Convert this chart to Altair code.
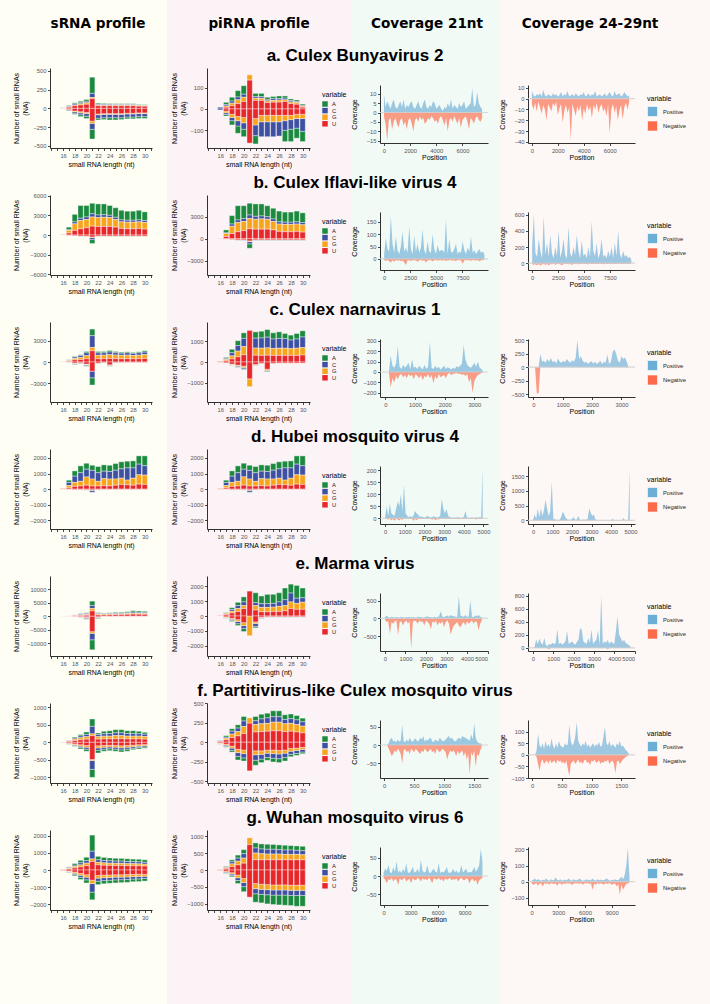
import altair as alt
import pandas as pd

# ---------------------------------------------------------------- constants
LENGTHS = list(range(16, 31))
BASES = ["A", "C", "G", "U"]
BASE_COLORS = ["#1b8a3e", "#3e50a2", "#f8a51d", "#e8272b"]
STACK_RANK = {"U": 0, "G": 1, "C": 2, "A": 3}
STRANDS = ["Positive", "Negative"]
STRAND_COLORS = ["#6baed6", "#fb6a4a"]

HEADERS = ["sRNA profile", "piRNA profile", "Coverage 21nt", "Coverage 24-29nt"]
COLUMN_BG = ["#fefef5", "#fcf3f6", "#f2faf6", "#fdf7f5"]
ROW_TITLES = [
    "a. Culex Bunyavirus 2",
    "b. Culex Iflavi-like virus 4",
    "c. Culex narnavirus 1",
    "d. Hubei mosquito virus 4",
    "e. Marma virus",
    "f. Partitivirus-like Culex mosquito virus",
    "g. Wuhan mosquito virus 6",
]

# ------------------------------------------- read counts per length (16..30)
# keys A,C,G,U = sense reads, nA..nU = antisense reads
srna_a = dict(
    A=[2, 10, 15, 20, 25, 217, 15, 12, 10, 10, 10, 10, 10, 8, 8],
    C=[2, 10, 15, 15, 20, 55, 10, 10, 10, 8, 8, 8, 8, 6, 6],
    G=[1, 5, 10, 15, 20, 15, 10, 10, 10, 10, 10, 10, 10, 10, 8],
    U=[4, 15, 35, 45, 55, 130, 35, 35, 35, 35, 35, 35, 35, 30, 28],
    nA=[-1, -5, -15, -25, -30, -130, -25, -25, -30, -30, -25, -25, -25, -25, -25],
    nC=[-2, -10, -20, -25, -35, -80, -45, -45, -45, -45, -45, -40, -40, -40, -40],
    nG=[-1, -5, -10, -15, -15, -30, -10, -10, -10, -10, -10, -10, -10, -10, -10],
    nU=[-2, -15, -35, -45, -55, -170, -75, -70, -70, -70, -70, -65, -65, -60, -60],
)
pirna_a = dict(
    A=[0, 10, 18, 30, 40, 0, 15, 15, 10, 10, 12, 10, 8, 7, 6],
    C=[8, 7, 10, 13, 14, 0, 8, 8, 7, 8, 7, 8, 6, 5, 4],
    G=[0, 6, 12, 18, 20, 25, 10, 10, 8, 8, 10, 8, 8, 8, 5],
    U=[0, 8, 15, 25, 35, 135, 40, 40, 30, 32, 32, 35, 25, 22, 8],
    nA=[0, -7, -20, -34, -35, 0, -39, 0, 0, 0, 0, -53, -58, -47, -48],
    nC=[-5, -8, -15, -25, -30, 0, -50, -70, -70, -70, -67, -45, -45, -45, -60],
    nG=[0, -8, -15, -20, -25, 0, -30, -30, -30, -30, -30, -25, -20, -20, -20],
    nU=[0, -10, -25, -35, -40, -160, -45, -30, -30, -30, -30, -30, -30, -25, -25],
)
srna_b = dict(
    A=[5, 400, 1150, 1950, 1750, 1610, 1690, 1640, 1500, 1460, 1470, 1380, 1380, 1470, 1330],
    C=[5, 100, 300, 350, 400, 480, 400, 400, 350, 350, 300, 300, 300, 300, 300],
    G=[60, 400, 1000, 1250, 1250, 1400, 1350, 1400, 1350, 1150, 1000, 1000, 1000, 1000, 1000],
    U=[30, 300, 700, 950, 1100, 1350, 1300, 1300, 1300, 1200, 1000, 950, 950, 1000, 900],
    nA=[0, -20, -30, -60, -80, -600, -80, -80, -80, -80, -80, -80, -80, -80, -80],
    nC=[0, -10, -10, -30, -40, -300, -40, -40, -40, -40, -40, -40, -40, -40, -40],
    nG=[0, -20, -20, -30, -30, -100, -30, -30, -30, -30, -30, -30, -30, -30, -30],
    nU=[0, -50, -100, -150, -150, -300, -150, -150, -150, -150, -150, -150, -150, -150, -150],
)
pirna_b = srna_b
srna_c = dict(
    A=[0, 50, 100, 100, 200, 940, 200, 200, 220, 180, 150, 150, 130, 150, 200],
    C=[0, 80, 200, 280, 400, 1680, 350, 330, 370, 320, 300, 330, 300, 330, 350],
    G=[40, 100, 200, 300, 450, 470, 500, 500, 550, 530, 500, 500, 480, 500, 550],
    U=[10, 100, 300, 350, 450, 1600, 450, 470, 500, 470, 450, 470, 450, 470, 500],
    nA=[0, -5, -75, -60, -100, -1030, -40, -10, -50, -10, -10, -10, -10, -10, -10],
    nC=[0, -10, -100, -80, -150, -940, -60, -30, -100, -30, -20, -20, -20, -20, -20],
    nG=[0, -5, -50, -40, -60, 0, -30, -20, -60, -20, -20, -20, -20, -20, -20],
    nU=[0, -30, -150, -100, -300, -1310, -150, -80, -400, -80, -60, -60, -60, -60, -60],
)
pirna_c = dict(
    A=[0, 55, 170, 240, 270, 0, 310, 330, 370, 300, 320, 250, 240, 270, 300],
    C=[0, 50, 150, 270, 400, 0, 480, 500, 520, 460, 480, 470, 420, 450, 520],
    G=[20, 60, 150, 280, 400, 0, 350, 350, 360, 340, 350, 350, 330, 350, 360],
    U=[30, 60, 150, 250, 350, 1540, 330, 320, 330, 320, 320, 320, 320, 320, 340],
    nA=[0, -5, -15, -30, -40, 0, -10, -5, -20, -5, -5, -5, -5, -5, -5],
    nC=[0, -5, -25, -40, -70, 0, -20, -15, -50, -15, -10, -10, -10, -10, -10],
    nG=[0, -10, -20, -40, -60, -380, -30, -20, -60, -20, -15, -15, -15, -15, -15],
    nU=[-10, -40, -100, -150, -200, -820, -120, -60, -350, -60, -50, -50, -50, -50, -50],
)
srna_d = dict(
    A=[0, 145, 340, 440, 385, 330, 400, 405, 400, 430, 450, 430, 450, 530, 630],
    C=[0, 200, 400, 550, 490, 550, 550, 480, 480, 560, 600, 780, 660, 680, 600],
    G=[40, 150, 250, 300, 530, 450, 300, 450, 450, 400, 400, 300, 450, 600, 600],
    U=[20, 80, 180, 200, 255, 200, 200, 220, 200, 250, 300, 280, 250, 320, 300],
    nA=[0, -5, -10, -10, -10, -20, -10, -10, -10, -10, -10, -10, -10, -10, -10],
    nC=[0, -5, -10, -10, -15, -120, -15, -10, -10, -10, -10, -10, -10, -10, -10],
    nG=[0, -5, -10, -10, -10, -20, -10, -10, -10, -10, -10, -10, -10, -10, -10],
    nU=[0, -10, -30, -30, -30, -50, -30, -20, -20, -20, -20, -20, -20, -20, -20],
)
pirna_d = srna_d
srna_e = dict(
    A=[5, 25, 100, 250, 300, 1600, 300, 250, 300, 350, 350, 400, 500, 500, 450],
    C=[5, 25, 100, 230, 340, 1100, 240, 220, 240, 260, 260, 300, 420, 400, 380],
    G=[10, 50, 100, 200, 300, 900, 300, 250, 250, 250, 250, 300, 350, 300, 300],
    U=[30, 100, 200, 300, 400, 2000, 500, 500, 550, 600, 600, 700, 800, 750, 700],
    nA=[0, -10, -70, -120, -300, -3700, -300, -20, -20, -20, -20, -20, -20, -20, -20],
    nC=[0, -10, -50, -120, -300, -2400, -200, -20, -20, -20, -20, -20, -20, -20, -20],
    nG=[0, 0, -30, -50, -100, -600, -60, -10, -10, -10, -10, -10, -10, -10, -10],
    nU=[0, -20, -100, -200, -400, -5700, -300, -50, -50, -50, -50, -50, -50, -50, -50],
)
pirna_e = dict(
    A=[0, 40, 120, 225, 340, 0, 670, 520, 630, 610, 620, 790, 600, 865, 660],
    C=[0, 40, 120, 200, 250, 0, 200, 250, 250, 250, 300, 400, 600, 350, 300],
    G=[10, 60, 120, 200, 200, 0, 300, 300, 300, 300, 350, 350, 450, 400, 480],
    U=[20, 100, 200, 300, 500, 1680, 400, 280, 280, 300, 300, 350, 500, 450, 450],
    nA=[0, -30, -70, -125, -200, 0, -100, -20, -10, -10, -10, -10, -10, -10, -10],
    nC=[0, -30, -80, -150, -200, 0, -200, -40, -20, -20, -20, -20, -20, -20, -20],
    nG=[0, -30, -70, -120, -200, -1330, -100, -30, -10, -10, -10, -10, -10, -10, -10],
    nU=[0, -60, -150, -250, -450, 0, -400, -80, -50, -50, -50, -50, -50, -50, -50],
)
srna_f = dict(
    A=[1, 10, 30, 40, 70, 210, 45, 70, 80, 90, 90, 80, 80, 70, 55],
    C=[2, 10, 30, 50, 65, 215, 60, 70, 75, 80, 80, 75, 75, 70, 65],
    G=[2, 15, 40, 60, 70, 50, 70, 80, 80, 90, 90, 80, 80, 80, 75],
    U=[5, 25, 50, 70, 90, 190, 90, 95, 95, 100, 100, 95, 95, 95, 90],
    nA=[-1, -10, -20, -40, -60, -230, -80, -60, -55, -60, -60, -60, -40, -40, -35],
    nC=[-2, -10, -25, -40, -55, -250, -65, -55, -50, -55, -60, -55, -45, -40, -35],
    nG=[-2, -15, -25, -40, -50, -30, -60, -50, -50, -50, -55, -50, -45, -40, -35],
    nU=[-5, -25, -45, -70, -90, -490, -100, -90, -85, -90, -100, -90, -80, -70, -65],
)
pirna_f = dict(
    A=[5, 20, 32, 42, 58, 0, 55, 60, 60, 75, 75, 60, 60, 55, 47],
    C=[5, 14, 35, 45, 70, 0, 48, 62, 70, 70, 70, 55, 60, 60, 55],
    G=[5, 20, 45, 55, 90, 67, 95, 100, 100, 110, 110, 100, 100, 95, 85],
    U=[10, 30, 60, 80, 110, 243, 130, 135, 140, 145, 145, 135, 140, 130, 120],
    nA=[-5, -10, -23, -45, -40, 0, -64, -45, -36, -47, -50, -45, -30, -25, -22],
    nC=[-5, -15, -28, -50, -55, 0, -70, -60, -55, -60, -60, -55, -40, -38, -33],
    nG=[-5, -13, -25, -42, -45, 0, -50, -45, -40, -45, -45, -40, -35, -30, -27],
    nU=[-10, -25, -50, -90, -100, -365, -110, -110, -100, -100, -105, -100, -80, -75, -65],
)
srna_g = dict(
    A=[5, 40, 100, 150, 200, 950, 200, 180, 170, 170, 160, 160, 150, 150, 150],
    C=[5, 40, 80, 120, 150, 450, 150, 140, 140, 130, 130, 130, 120, 120, 110],
    G=[10, 40, 80, 120, 150, 150, 150, 140, 130, 130, 130, 120, 120, 120, 110],
    U=[20, 60, 120, 180, 250, 500, 300, 280, 270, 260, 260, 250, 250, 240, 230],
    nA=[-5, -30, -80, -130, -180, -450, -200, -190, -180, -180, -170, -170, -160, -160, -150],
    nC=[-5, -30, -70, -120, -160, -500, -180, -170, -160, -160, -150, -150, -140, -140, -130],
    nG=[-10, -30, -70, -110, -140, -200, -160, -150, -150, -140, -140, -140, -130, -130, -120],
    nU=[-20, -60, -120, -200, -280, -600, -320, -300, -290, -280, -280, -270, -260, -250, -250],
)
pirna_g = dict(
    A=[5, 20, 60, 90, 120, 0, 150, 150, 150, 140, 140, 140, 130, 130, 130],
    C=[5, 20, 60, 90, 130, 0, 150, 140, 140, 140, 130, 130, 130, 120, 120],
    G=[5, 30, 80, 110, 150, 200, 200, 180, 170, 170, 170, 160, 160, 160, 150],
    U=[10, 40, 100, 150, 200, 750, 300, 300, 300, 300, 300, 300, 300, 300, 300],
    nA=[-5, -20, -40, -90, -150, 0, -250, -250, -270, -280, -290, -300, -300, -320, -320],
    nC=[-5, -20, -40, -80, -120, 0, -150, -150, -150, -150, -150, -150, -150, -150, -150],
    nG=[-5, -20, -40, -80, -120, 0, -150, -150, -150, -150, -150, -150, -150, -150, -150],
    nU=[-10, -40, -80, -150, -250, -800, -400, -420, -430, -440, -440, -440, -450, -450, -450],
)

# ------------------------------------ coverage along the genome (sampled)
cov21_a_pos = [10, 3, 6, 4, 2, 5, 7, 3, 2, 4, 6, 3, 7, 2, 4, 3, 5, 6, 3, 2, 4, 6, 3, 2, 5, 7, 3, 2, 4, 3,
               6, 5, 2, 3, 4, 2, 1, 3, 2, 5, 3, 7, 2, 4, 3, 2, 5, 3, 4, 6, 2, 3, 4, 5, 13, 3, 4, 11, 5, 3, 2]
cov21_a_neg = [-2, -6, -15, -4, -3, -9, -5, -3, -6, -8, -4, -3, -7, -5, -9, -4, -3, -6, -10, -4,
               -3, -5, -2, -4, -3, -6, -5, -3, -4, -2, -3, -5, -4, -6, -3, -2, -4, -7, -3, -10,
               -4, -3, -5, -2, -4, -6, -3, -8, -4, -3, -2, -5, -9, -3, -4, -6, -3, -2, -4, -5, -3]
cov24_a_pos = [7, 3, 2, 4, 3, 5, 2, 8, 3, 2, 4, 3, 2, 5, 3, 4, 2, 3, 6, 2, 4, 3, 7, 2, 3, 4, 2, 5, 3, 2,
               4, 3, 6, 2, 3, 5, 2, 4, 3, 7, 2, 3, 4, 2, 3, 5, 2, 4, 6, 3, 2, 7, 3, 4, 5, 2, 3, 6, 4, 2, 3]
cov24_a_neg = [-5, -10, -4, -12, -3, -8, -14, -6, -10, -20, -5, -8, -12, -4, -7, -3, -15, -9, -5, -22,
               -11, -6, -13, -8, -38, -5, -10, -16, -7, -12, -6, -20, -9, -14, -5, -11, -7, -18, -6, -10,
               -4, -13, -8, -5, -12, -9, -16, -6, -32, -10, -5, -13, -7, -20, -11, -6, -19, -8, -4, -10, -3]

cov21_b_pos = [20, 85, 40, 30, 175, 60, 25, 90, 35, 20, 50, 110, 30, 45, 25, 130, 40, 20, 95, 30,
               60, 25, 45, 120, 35, 20, 70, 30, 25, 100, 40, 20, 55, 30, 35, 35, 25, 160, 20, 80,
               30, 25, 40, 60, 20, 30, 25, 70, 35, 20, 45, 30, 90, 25, 35, 20, 30, 40, 25, 30, 20]
cov21_b_neg = [-5, -8, -4, -10, -15, -6, -12, -4, -8, -5, -10, -7, -14, -25, -6, -5, -9, -4, -7, -5,
               -12, -6, -4, -8, -5, -15, -7, -4, -6, -10, -5, -4, -8, -6, -5, -7, -4, -9, -5, -6,
               -4, -8, -5, -10, -4, -6, -5, -20, -7, -4, -6, -5, -8, -4, -5, -7, -4, -10, -5, -4, -3]
cov24_b_pos = [200, 600, 120, 80, 300, 150, 60, 580, 100, 250, 80, 350, 120, 60, 200, 90, 400, 70, 150, 300,
               100, 60, 450, 120, 80, 200, 100, 350, 150, 60, 280, 90, 120, 60, 200, 80, 520, 150, 90, 250,
               60, 120, 300, 80, 100, 60, 150, 80, 200, 60, 250, 90, 400, 120, 60, 150, 80, 100, 60, 80, 40]
cov24_b_neg = [-10, -20, -15, -25, -10, -30, -15, -10, -20, -12, -25, -10, -15, -8, -20, -12, -10, -15, -25, -10,
               -12, -8, -15, -10, -20, -12, -8, -10, -15, -12, -10, -8, -12, -10, -15, -8, -10, -12, -8, -10,
               -12, -8, -10, -15, -8, -10, -12, -8, -10, -6, -12, -8, -10, -6, -8, -12, -6, -8, -10, -6, -5]

cov21_c_pos = [0, 0, 0, 160, 60, 40, 80, 250, 50, 30, 70, 40, 60, 90, 30, 120, 40, 50, 30, 60,
               40, 25, 70, 30, 50, 290, 40, 30, 60, 35, 50, 25, 40, 60, 30, 45, 35, 25, 40, 30,
               55, 45, 60, 80, 260, 120, 70, 50, 40, 60, 90, 50, 100, 40, 30, 0]
cov21_c_neg = [0, 0, 0, -150, -60, -100, -40, -70, -30, -20, -50, -30, -60, -20, -40, -30, -70, -20, -40, -60,
               -30, -80, -40, -50, -20, -60, -30, -110, -40, -70, -20, -50, -40, -30, -60, -20, -10, -30, -20, -15,
               -10, -20, -15, -30, -20, -40, -20, -100, -60, -200, -90, -50, -30, -20, -10, 0]
cov24_c_pos = [0, 0, 0, 0, 250, 100, 120, 80, 150, 100, 170, 90, 120, 70, 160, 100, 80, 120, 90, 150,
               110, 80, 130, 100, 170, 500, 150, 200, 120, 80, 100, 60, 90, 110, 70, 100, 60, 80, 120, 60,
               100, 80, 230, 60, 100, 280, 330, 250, 120, 80, 200, 150, 180, 100, 0, 0]
cov24_c_neg = [0, 0, -480, -480, 0, 0]

cov21_d_pos = [5, 50, 10, 60, 20, 15, 10, 40, 70, 50, 100, 30, 140, 20, 10, 5, 8, 5, 10, 30,
               20, 15, 5, 8, 5, 3, 5, 10, 5, 3, 5, 8, 5, 3, 5, 10, 80, 40, 20, 40,
               10, 5, 3, 2, 3, 2, 5, 3, 2, 2, 5, 30, 3, 2, 2, 3, 2, 2, 3, 2, 5, 3, 210]
cov21_d_neg = [-2, -3, -5, -2, -8, -3, -10, -2, -5, -8, -3, -6, -2, -3, -2, -2, -3, -2, -10, -3,
               -8, -2, -3, -2, -2, -2, -3, -2, -2, -3, -5, -2, -8, -3, -5, -2, -3, -2, -2, -3,
               -2, -2, -2, -3, -2, -2, -2, -3, -2, -2, -2, -2, -3, -2, -2, -2, -3, -2, -5, -2, -2, -3, -2]
cov24_d_pos = [10, 200, 50, 400, 100, 400, 150, 350, 700, 400, 150, 300, 1300, 50, 30, 20, 10, 20, 100, 300,
               200, 80, 30, 20, 10, 50, 100, 20, 30, 150, 20, 10, 30, 20, 30, 40, 400, 250, 150, 200,
               30, 10, 5, 5, 10, 5, 5, 5, 5, 5, 5, 50, 5, 5, 5, 5, 5, 10, 80, 5, 5, 10, 1750]
cov24_d_neg = [-5, -8, -5, -10, -5, -8, -5, -10, -15, -8, -5, -5, -20, -5, -3, -3, -2, -3, -5, -8,
               -5, -3, -2, -2, -2, -3, -2, -2, -3, -5, -2, -2, -3, -2, -2, -3, -10, -8, -5, -3,
               -2, -2, -2, -2, -2, -2, -2, -2, -2, -2, -2, -3, -2, -2, -2, -2, -2, -2, -5, -2, -2, -2, -10]

cov21_e_pos = [30, 80, 40, 20, 50, 30, 20, 40, 30, 20, 50, 30, 20, 40, 30, 50, 20, 40, 30, 20,
               50, 30, 40, 20, 30, 50, 60, 30, 40, 20, 50, 30, 40, 60, 200, 50, 40, 60, 80, 50,
               100, 70, 60, 50, 40, 630, 80, 60, 50, 100, 40, 60, 500, 50, 40, 80, 60, 100, 50, 30]
cov21_e_neg = [-30, -100, -80, -430, -100, -150, -80, -60, -470, -100, -80, -200, -100, -60, -150, -80, -850, -100, -60, -80,
               -150, -60, -100, -80, -200, -60, -100, -150, -300, -80, -120, -60, -200, -100, -150, -80, -250, -100, -60, -150,
               -450, -300, -200, -150, -100, -200, -250, -150, -100, -200, -80, -150, -100, -60, -150, -80, -100, -330, -150, -50]
cov24_e_pos = [0, 10, 130, 60, 140, 80, 50, 150, 40, 30, 60, 50, 80, 60, 70, 280, 60, 80, 50, 70,
               100, 260, 60, 80, 100, 70, 50, 90, 120, 300, 280, 100, 80, 60, 150, 80, 280, 60, 100, 120,
               270, 40, 800, 60, 100, 80, 120, 60, 100, 80, 60, 250, 480, 200, 150, 100, 120, 80, 60, 40, 20]
cov24_e_neg = [-2, -3, -2, -2, -3, -2, -2, -3, -2, -5, -20, -3, -2, -2, -3, -2, -2, -3, -2, -2,
               -3, -2, -2, -2, -3, -2, -2, -3, -2, -2, -3, -2, -2, -2, -3, -2, -2, -3, -2, -2,
               -3, -2, -5, -3, -2, -2, -20, -3, -2, -2, -3, -2, -2, -3, -2, -2, -3, -2, -2, -2, -2]

cov21_f_pos = [0, 0, 0, 5, 15, 20, 10, 12, 8, 15, 10, 12, 55, 10, 8, 15, 10, 20, 12, 8,
               15, 18, 10, 12, 20, 15, 25, 10, 15, 12, 18, 20, 10, 8, 15, 12, 10, 20, 15, 10,
               12, 15, 20, 25, 18, 20, 15, 10, 12, 18, 20, 15, 25, 22, 20, 18, 15, 12, 30, 15, 60, 20, 10, 5, 5, 3]
cov21_f_neg = [0, 0, 0, -10, -20, -30, -25, -15, -20, -10, -15, -25, -50, -15, -10, -20, -15, -25, -10, -15,
               -20, -10, -15, -20, -25, -15, -20, -10, -15, -20, -15, -10, -20, -15, -25, -10, -15, -20, -15, -10,
               -15, -20, -40, -25, -15, -20, -15, -20, -30, -15, -25, -20, -15, -30, -20, -40, -25, -80, -20, -30,
               -15, -60, -25, -30, -15, -5]
cov24_f_pos = [0, 0, 0, 20, 90, 40, 30, 50, 25, 60, 35, 45, 30, 70, 40, 25, 50, 30, 60, 40,
               35, 30, 50, 40, 45, 130, 60, 40, 50, 80, 140, 60, 45, 35, 50, 40, 60, 35, 45, 30,
               40, 50, 35, 45, 40, 55, 35, 40, 80, 120, 50, 40, 60, 35, 45, 40, 30, 50, 40, 60, 35, 40, 30, 20, 15, 5]
cov24_f_neg = [0, 0, 0, -10, -40, -70, -30, -20, -40, -30, -25, -40, -20, -35, -30, -25, -40, -20, -30, -25,
               -35, -30, -40, -25, -60, -90, -40, -30, -25, -40, -30, -20, -35, -30, -40, -25, -20, -35, -30, -45,
               -25, -30, -20, -35, -30, -25, -40, -30, -35, -25, -30, -20, -40, -30, -25, -40, -80, -30, -25, -40,
               -30, -20, -15, -10, -5, 0]

cov21_g_pos = [10, 20, 15, 30, 10, 8, 25, 12, 40, 10, 15, 8, 20, 12, 35, 10, 8, 15, 25, 10,
               12, 20, 8, 45, 15, 10, 12, 30, 10, 8, 15, 20, 12, 10, 35, 8, 12, 10, 15, 25,
               10, 8, 12, 20, 10, 15, 8, 12, 30, 10, 15, 20, 8, 12, 10, 15, 25, 12, 20, 30, 75, 40]
cov21_g_neg = [-5, -10, -20, -8, -12, -5, -15, -8, -10, -25, -6, -12, -8, -5, -15, -10, -8, -20, -6, -10,
               -12, -5, -8, -15, -6, -10, -8, -12, -5, -10, -20, -6, -8, -10, -5, -12, -8, -15, -6, -10,
               -8, -5, -12, -8, -10, -6, -15, -8, -5, -10, -12, -6, -8, -20, -10, -8, -15, -10, -25, -12, -8, -5]
cov24_g_pos = [5, 10, 20, 8, 15, 10, 5, 12, 8, 20, 10, 5, 15, 8, 10, 25, 10, 8, 15, 5,
               10, 12, 8, 20, 10, 5, 15, 10, 8, 12, 20, 10, 5, 8, 15, 10, 12, 8, 20, 10,
               5, 15, 8, 12, 10, 8, 15, 20, 10, 5, 12, 8, 15, 10, 8, 20, 30, 15, 40, 100, 210, 30]
cov24_g_neg = [-10, -20, -15, -8, -25, -10, -12, -30, -8, -15, -10, -20, -8, -12, -15, -10, -25, -8, -12, -20,
               -10, -15, -8, -12, -10, -20, -15, -8, -12, -10, -15, -8, -20, -10, -12, -8, -15, -10, -50, -12,
               -20, -8, -15, -10, -12, -20, -8, -15, -10, -12, -20, -15, -10, -30, -15, -80, -20, -50, -30, -15, -10, -5]

# ------------------------------------------------ per-row axis settings
ROWS = [
    dict(srna=srna_a, srna_dom=[-530, 540], srna_ticks=[-500, -250, 0, 250, 500],
         pirna=pirna_a, pirna_dom=[-183, 192], pirna_ticks=[-100, 0, 100],
         step=125, xdom=[-300, 7950], xticks=[0, 2000, 4000, 6000],
         c21=(cov21_a_pos, cov21_a_neg), c21_dom=[-16.3, 14.7], c21_ticks=[-15, -10, -5, 0, 5, 10],
         c24=(cov24_a_pos, cov24_a_neg), c24_dom=[-41, 12.5], c24_ticks=[-40, -30, -20, -10, 0, 10]),
    dict(srna=srna_b, srna_dom=[-6100, 6100], srna_ticks=[-6000, -3000, 0, 3000, 6000],
         pirna=pirna_b, pirna_dom=[-4950, 5960], pirna_ticks=[-3000, 0, 3000],
         step=160, xdom=[-400, 9950], xticks=[0, 2500, 5000, 7500, 10000],
         c21=(cov21_b_pos, cov21_b_neg), c21_dom=[-45, 190], c21_ticks=[0, 50, 100, 150],
         c24=(cov24_b_pos, cov24_b_neg), c24_dom=[-85, 635], c24_ticks=[0, 200, 400, 600]),
    dict(srna=srna_c, srna_dom=[-5700, 5700], srna_ticks=[-3000, 0, 3000],
         pirna=pirna_c, pirna_dom=[-1950, 1950], pirna_ticks=[-1000, 0, 1000],
         step=60, xdom=[-180, 3460], xticks=[0, 1000, 2000, 3000],
         c21=(cov21_c_pos, cov21_c_neg), c21_dom=[-242, 319], c21_ticks=[-200, -100, 0, 100, 200, 300],
         c24=(cov24_c_pos, cov24_c_neg), c24_dom=[-550, 520], c24_ticks=[-500, -250, 0, 250, 500]),
    dict(srna=srna_d, srna_dom=[-2550, 2570], srna_ticks=[-2000, -1000, 0, 1000, 2000],
         pirna=pirna_d, pirna_dom=[-2550, 2570], pirna_ticks=[-2000, -1000, 0, 1000, 2000],
         step=80, xdom=[-260, 5230], xticks=[0, 1000, 2000, 3000, 4000, 5000],
         c21=(cov21_d_pos, cov21_d_neg), c21_dom=[-24, 218], c21_ticks=[0, 50, 100, 150, 200],
         c24=(cov24_d_pos, cov24_d_neg), c24_dom=[-125, 1840], c24_ticks=[0, 500, 1000, 1500]),
    dict(srna=srna_e, srna_dom=[-14700, 14900], srna_ticks=[-10000, -5000, 0, 5000, 10000],
         pirna=pirna_e, pirna_dom=[-2700, 2700], pirna_ticks=[-2000, -1000, 0, 1000, 2000],
         step=80, xdom=[-240, 5020], xticks=[0, 1000, 2000, 3000, 4000, 5000],
         c21=(cov21_e_pos, cov21_e_neg), c21_dom=[-914, 714], c21_ticks=[-500, 0, 500],
         c24=(cov24_e_pos, cov24_e_neg), c24_dom=[-47, 840], c24_ticks=[0, 200, 400, 600, 800]),
    dict(srna=srna_f, srna_dom=[-1160, 1120], srna_ticks=[-1000, -500, 0, 500, 1000],
         pirna=pirna_f, pirna_dom=[-520, 500], pirna_ticks=[-500, -250, 0, 250, 500],
         step=25, xdom=[-70, 1730], xticks=[0, 500, 1000, 1500],
         c21=(cov21_f_pos, cov21_f_neg), c21_dom=[-91, 69], c21_ticks=[-50, 0, 50],
         c24=(cov24_f_pos, cov24_f_neg), c24_dom=[-100, 150], c24_ticks=[-100, -50, 0, 50, 100]),
    dict(srna=srna_g, srna_dom=[-2350, 2350], srna_ticks=[-2000, -1000, 0, 1000, 2000],
         pirna=pirna_g, pirna_dom=[-1180, 1180], pirna_ticks=[-1000, -500, 0, 500, 1000],
         step=180, xdom=[-400, 11600], xticks=[0, 3000, 6000, 9000],
         c21=(cov21_g_pos, cov21_g_neg), c21_dom=[-80, 80], c21_ticks=[-50, 0, 50],
         c24=(cov24_g_pos, cov24_g_neg), c24_dom=[-145, 215], c24_ticks=[-100, 0, 100, 200]),
]

# ------------------------------------------------------------- layout sizes
BAR_H = 80          # height of the length-profile panels
COV_H = 75          # coverage cell height; plot occupies its lower part
COV_TOP = 17
COL_W = [157, 173, 148, 107]     # header widths set each column's width
PANEL_W = [102, 103, 108, 107]
BG_SPAN = [(-50, 117), (-40, 145), (-28, 120), (-28, 182)]
HEADER_X = [48, 52, 47, 62]
FONT = "Liberation Sans"


def header_cell(i):
    df = pd.DataFrame({"label": [HEADERS[i]]})
    x0, x1 = BG_SPAN[i]
    band = alt.Chart(df).mark_rect(color=COLUMN_BG[i]).encode(
        x=alt.value(x0), x2=alt.value(x1), y=alt.value(-5), y2=alt.value(999))
    text = alt.Chart(df).mark_text(
        font="DejaVu Sans", fontWeight="bold", fontSize=13.6, color="#000000",
        align="center", baseline="middle",
    ).encode(text="label:N", x=alt.value(HEADER_X[i]), y=alt.value(19))
    return alt.layer(band, text).properties(width=COL_W[i], height=16)


def profile_cell(counts, dom, ticks, width, title_x, with_legend):
    records = []
    for base in BASES:
        for key, sign in ((base, "pos"), ("n" + base, "neg")):
            for length, v in zip(LENGTHS, counts[key]):
                if v != 0:
                    records.append({"len": length, "base": base, "sign": sign,
                                    "value": v, "rank": STACK_RANK[base]})
    df = pd.DataFrame(records)
    legend = None
    if with_legend:
        legend = alt.Legend(title="variable", orient="none", legendX=115, legendY=23,
                            symbolType="square", symbolSize=30, symbolStrokeWidth=0,
                            labelFontSize=5.8, titleFontSize=7, rowPadding=0.6,
                            titlePadding=3, labelOffset=4)
    return alt.Chart(df).transform_calculate(
        xlo="datum.len - 0.45", xhi="datum.len + 0.45"
    ).transform_stack(
        stack="value", groupby=["len", "sign"], as_=["y0", "y1"],
        sort=[alt.SortField("rank", order="ascending")],
    ).mark_rect(stroke="white", strokeWidth=0.7, strokeOpacity=0.55).encode(
        x=alt.X("xlo:Q", scale=alt.Scale(domain=[13.75, 31.25], nice=False, zero=False),
                axis=alt.Axis(values=list(range(14, 32)), format="d",
                              labelExpr="datum.value % 2 == 0 && datum.value >= 16 && datum.value <= 30 ? datum.label : ''",
                              title="small RNA length (nt)", titleY=12.5, titleBaseline="top")),
        x2="xhi:Q",
        y=alt.Y("y0:Q", scale=alt.Scale(domain=dom, nice=False, zero=False),
                axis=alt.Axis(values=ticks, format="d", title=["Number of small RNAs", "(NA)"],
                              titleX=title_x, titleBaseline="bottom", labelOverlap=False)),
        y2="y1:Q",
        color=alt.Color("base:N", scale=alt.Scale(domain=BASES, range=BASE_COLORS), legend=legend),
    ).properties(width=width, height=BAR_H)


def coverage_cell(series, step, xdom, xticks, dom, ticks, width, title_x, with_legend, row_title=None):
    records = []
    for name, vals in zip(STRANDS, series):
        for i, v in enumerate(vals):
            records.append({"pos": i * step, "value": v, "variable": name})
    df = pd.DataFrame(records)
    legend = None
    if with_legend:
        legend = alt.Legend(title="variable", orient="none", legendX=119, legendY=27,
                            symbolType="square", symbolSize=100, symbolOpacity=1,
                            symbolStrokeColor="#ffffff", symbolStrokeWidth=0.6,
                            labelFontSize=5.8, titleFontSize=7, rowPadding=1.5,
                            titlePadding=4, labelOffset=5)
    yscale = alt.Scale(domain=dom, range=[COV_H, COV_TOP], nice=False, zero=False)
    # both layers carry the same axis definition so the merged axis keeps every tick
    yaxis = alt.Axis(values=ticks, format="d", title="Coverage", tickCount=len(ticks) + 2,
                     titleX=title_x, titleBaseline="bottom", labelOverlap=False)
    area = alt.Chart(df).mark_area(opacity=0.65).encode(
        x=alt.X("pos:Q", scale=alt.Scale(domain=xdom, nice=False, zero=False),
                axis=alt.Axis(values=xticks, format="d", title="Position",
                              titleY=10.5, titleBaseline="top", labelOverlap=False)),
        y=alt.Y("value:Q", stack=None, scale=yscale, axis=yaxis),
        y2=alt.datum(0),
        color=alt.Color("variable:N", scale=alt.Scale(domain=STRANDS, range=STRAND_COLORS),
                        legend=legend),
    )
    zero = alt.Chart(pd.DataFrame({"zero": [0]})).mark_rule(
        color="#cfcfcf", strokeWidth=1.2, opacity=0.8).encode(
        y=alt.Y("zero:Q", scale=yscale, axis=yaxis))
    chart = alt.layer(area, zero).properties(width=width, height=COV_H)
    if row_title:
        chart = chart.properties(title=alt.TitleParams(
            text=row_title, anchor="start", frame="group", align="center", dx=-173, dy=18,
            offset=13, baseline="middle", font=FONT, fontSize=17, fontWeight="bold",
            color="#000000"))
    return chart


cells = [header_cell(i) for i in range(4)]
for r, row in enumerate(ROWS):
    cells.append(profile_cell(row["srna"], row["srna_dom"], row["srna_ticks"], PANEL_W[0], -31, False))
    cells.append(profile_cell(row["pirna"], row["pirna_dom"], row["pirna_ticks"], PANEL_W[1], -30, True))
    cells.append(coverage_cell(row["c21"], row["step"], row["xdom"], row["xticks"],
                               row["c21_dom"], row["c21_ticks"], PANEL_W[2], -23, False))
    cells.append(coverage_cell(row["c24"], row["step"], row["xdom"], row["xticks"],
                               row["c24_dom"], row["c24_ticks"], PANEL_W[3], -23, True,
                               row_title=ROW_TITLES[r]))

chart = alt.concat(
    *cells, columns=4, spacing={"row": 47, "column": 0}, bounds="flush", padding=0,
).resolve_scale(
    color="independent"
).resolve_legend(
    color="independent"
).configure_view(
    stroke=None
).configure_axis(
    grid=False, domainColor="#1a1a1a", domainWidth=0.9, tickColor="#1a1a1a", tickWidth=0.8,
    tickSize=2.5, labelColor="#555555", labelFontSize=5.8, labelPadding=1.5, labelFont=FONT,
    titleFont=FONT, titleFontSize=7, titleFontWeight="normal", titleColor="#000000",
).configure_legend(
    labelFont=FONT, titleFont=FONT, titleFontWeight="normal", labelColor="#222222",
    titleColor="#000000",
)

chart.save("out.html", embed_options={"renderer": "svg", "actions": False})
